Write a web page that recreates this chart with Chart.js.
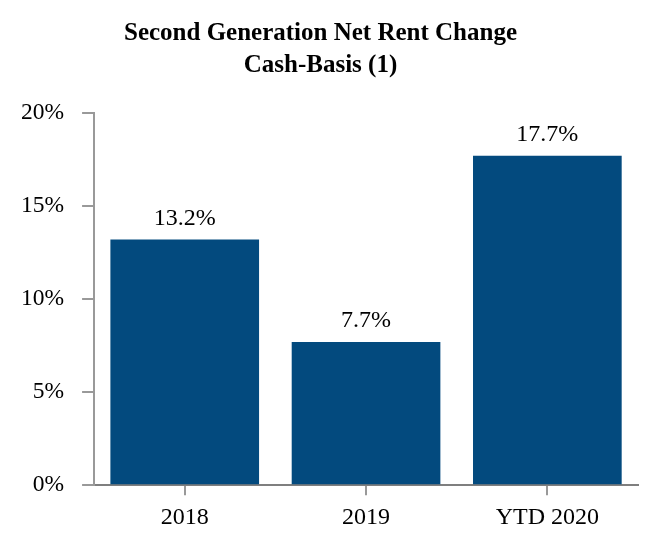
<!DOCTYPE html>
<html>
<head>
<meta charset="utf-8">
<script src="https://cdn.jsdelivr.net/npm/chart.js@4/dist/chart.umd.min.js"></script>
<style>
  html, body { margin: 0; padding: 0; background: #fff; }
  #wrap { width: 658px; height: 546px; }
</style>
</head>
<body>
<div id="wrap"><canvas id="rent-plot" width="658" height="546"></canvas></div>
<script>
var years = ["2018", "2019", "YTD 2020"];
var rentChange = [13.2, 7.7, 17.7];
var yTicks = [0, 5, 10, 15, 20];
var titleLines = ["Second Generation Net Rent Change", "Cash-Basis (1)"];

var barColor = "#034a7e";
var serif = "'Liberation Serif', 'Times New Roman', serif";

// draws the value above each bar
var barLabels = {
  id: "barLabels",
  afterDatasetsDraw: function (chart) {
    var ctx = chart.ctx;
    var meta = chart.getDatasetMeta(0);
    ctx.save();
    ctx.font = "24px " + serif;
    ctx.fillStyle = "#000";
    ctx.textAlign = "center";
    ctx.textBaseline = "middle";
    meta.data.forEach(function (bar, i) {
      ctx.fillText(rentChange[i].toFixed(1) + "%", bar.x, bar.y - 21);
    });
    ctx.restore();
  }
};

new Chart("rent-plot", {
  type: "bar",
  data: {
    labels: years,
    datasets: [{
      label: "Net Rent Change",
      backgroundColor: barColor,
      data: rentChange,
      categoryPercentage: 1,
      barPercentage: 0.82
    }]
  },
  plugins: [barLabels],
  options: {
    responsive: false,
    animation: false,
    layout: {
      padding: { left: 3, right: 20, top: 0, bottom: 6 }
    },
    plugins: {
      legend: { display: false },
      tooltip: { enabled: false },
      title: {
        display: true,
        text: titleLines,
        color: "#000",
        font: { family: serif, size: 25, weight: "bold", lineHeight: 1.3 },
        padding: { top: 17, bottom: 31 }
      }
    },
    scales: {
      x: {
        grid: {
          offset: false,
          drawOnChartArea: false,
          drawTicks: true,
          tickLength: 10,
          color: "#999",
          lineWidth: 2
        },
        border: { color: "#7f7f7f", width: 2 },
        ticks: {
          color: "#000",
          padding: 8,
          font: { family: serif, size: 24 }
        }
      },
      y: {
        min: 0,
        max: 20,
        afterBuildTicks: function (axis) {
          axis.ticks = yTicks.map(function (v) { return { value: v }; });
        },
        grid: {
          drawOnChartArea: false,
          drawTicks: true,
          tickLength: 12,
          color: "#999",
          lineWidth: 2
        },
        border: { color: "#999", width: 2 },
        ticks: {
          color: "#000",
          padding: 18,
          font: { family: serif, size: 23.5 },
          callback: function (v) { return v + "%"; }
        }
      }
    }
  }
});
</script>
</body>
</html>
